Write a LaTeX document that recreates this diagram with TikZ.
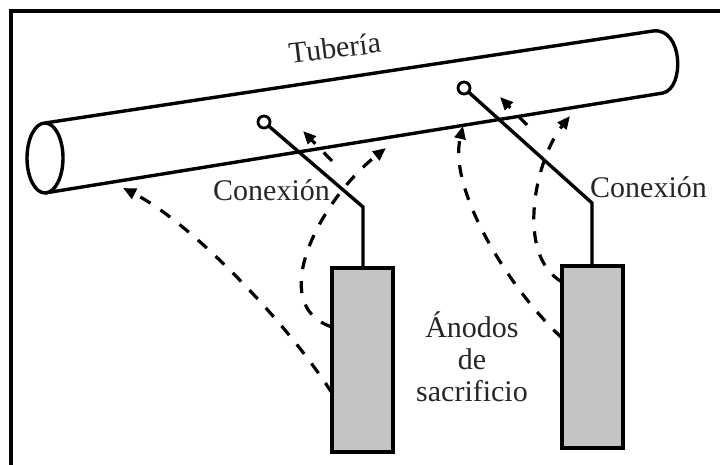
\documentclass[tikz,border=0pt]{standalone}
\usepackage{fontspec}
\setmainfont{Liberation Serif}
\usetikzlibrary{arrows.meta,calc}
\begin{document}
\begin{tikzpicture}[x=1pt,y=-1pt,
  frame/.style={line width=3.8pt, line join=miter},
  pipe/.style={line width=3.4pt, line join=round},
  wire/.style={line width=3.4pt, line join=miter},
  terminal/.style={circle, draw, line width=2.8pt, fill=white, minimum size=12pt, inner sep=0pt, outer sep=0pt},
  anode/.style={rectangle, draw, line width=3.4pt, fill=black!23, inner sep=0pt, outer sep=0pt},
  current/.style={line width=3.2pt, dash pattern=on 12pt off 12pt, -{Triangle[length=13pt,width=11pt]}},
  label/.style={font=\fontsize{30}{32}\selectfont, text=black!85, inner sep=0pt}
]
\useasboundingbox (0,0) rectangle (720,465);
% open frame: left and top edges only
\draw[frame] (11,465) -- (11,11) -- (720,11);

% the pipe: open end on the left, rounded cap on the right
\draw[pipe] (45,158) ellipse [x radius=18pt, y radius=35pt];
\draw[pipe] (45,123) -- (653,31) .. controls (683,27) and (685,88) .. (663,93) -- (45,193);

% sacrificial anodes
\node[anode, minimum width=61pt, minimum height=184pt] (a1) at (362.5,360) {};
\node[anode, minimum width=61pt, minimum height=182pt] (a2) at (592.5,357) {};

% current paths from the anodes to the pipe
\coordinate (e1) at (123,188);
\coordinate (e2) at (386,148);
\coordinate (e3s) at (332,161);
\coordinate (e3) at (303,131);
\coordinate (e4) at (463,126);
\coordinate (e5) at (570,116);
\coordinate (e6s) at (527,125);
\coordinate (e6) at (500,97);
\draw[current] ([yshift=-125pt]a1.north west) .. controls (285,320) and (190,222) .. (e1);
\draw[current] ([yshift=-59pt]a1.north west) .. controls (265,305) and (320,200) .. (e2);
\draw[current] (e3s) -- (e3);
\draw[current] ([yshift=-72pt]a2.north west) .. controls (510,290) and (448,190) .. (e4);
\draw[current] ([yshift=-16pt]a2.north west) .. controls (515,255) and (535,160) .. (e5);
\draw[current] (e6s) -- (e6);

% connection wires from the pipe terminals to the anodes
\node[terminal] (t1) at (264,122) {};
\node[terminal] (t2) at (464,88) {};
\coordinate (k1) at (363,207);
\coordinate (k2) at (592,203);
\draw[wire] (t1) -- (k1) -- (k1 |- a1.north);
\draw[wire] (t2) -- (k2) -- (k2 |- a2.north);

% labels
\node[label, anchor=base, rotate=7] (tub) at (336,58) {Tubería};
\node[label, anchor=base] (cx1) at (271.5,201) {Conexión};
\node[label, anchor=base] (cx2) at (648.5,198) {Conexión};
\node[label, align=center] (an) at (472,357) {Ánodos\\de\\sacrificio};
\end{tikzpicture}
\end{document}
